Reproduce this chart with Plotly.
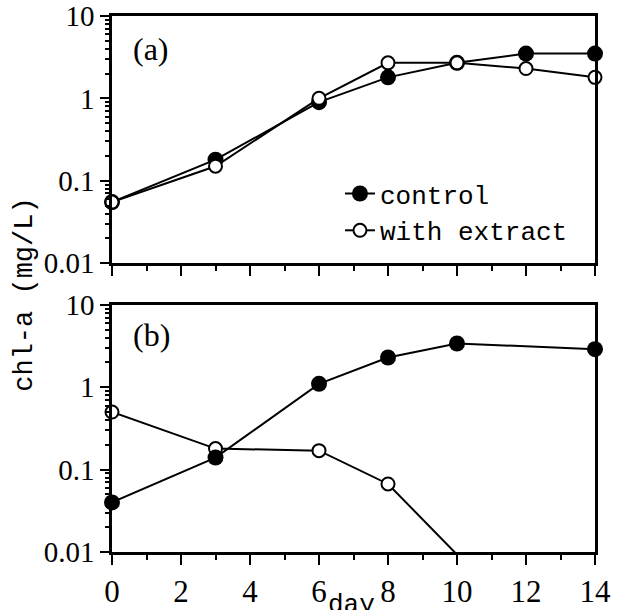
import plotly.graph_objects as go

# ---- data ----
days_a = [0, 3, 6, 8, 10, 12, 14]
control_a = [0.055, 0.18, 0.9, 1.8, 2.7, 3.5, 3.5]
extract_a = [0.055, 0.15, 1.0, 2.7, 2.7, 2.3, 1.8]

days_b_control = [0, 3, 6, 8, 10, 14]
control_b = [0.04, 0.14, 1.1, 2.3, 3.4, 2.9]
days_b_extract = [0, 3, 6, 8, 10]
extract_b = [0.5, 0.18, 0.17, 0.067, 0.0093]

y_tickvals = [0.01, 0.1, 1, 10]
y_ticktext = ["0.01", "0.1", "1", "10"]
x_tickvals = [0, 2, 4, 6, 8, 10, 12, 14]

SERIF = "Liberation Serif"
MONO = "Liberation Mono"
YMIN = 0.01

def sizes(vals, s):
    return [s if v >= YMIN else 0 for v in vals]

def filled(vals):
    return dict(symbol="circle", size=sizes(vals, 16), color="#000000", opacity=1,
                line=dict(color="#000000", width=0))

def hollow(vals):
    return dict(symbol="circle", size=sizes(vals, 13), color="#ffffff", opacity=1,
                line=dict(color="#000000", width=2))

line_style = dict(color="#000000", width=2)

fig = go.Figure()
fig.add_trace(go.Scatter(x=days_a, y=control_a, mode="lines+markers", name="control",
                         line=line_style, marker=filled(control_a), opacity=1,
                         cliponaxis=False, xaxis="x", yaxis="y"))
fig.add_trace(go.Scatter(x=days_a, y=extract_a, mode="lines+markers", name="with extract",
                         line=line_style, marker=hollow(extract_a), opacity=1,
                         cliponaxis=False, xaxis="x", yaxis="y"))
fig.add_trace(go.Scatter(x=days_b_extract, y=extract_b, mode="lines+markers", showlegend=False,
                         line=line_style, marker=hollow(extract_b), opacity=1,
                         cliponaxis=False, xaxis="x2", yaxis="y2"))
fig.add_trace(go.Scatter(x=days_b_control, y=control_b, mode="lines+markers", showlegend=False,
                         line=line_style, marker=filled(control_b), opacity=1,
                         cliponaxis=False, xaxis="x2", yaxis="y2"))

common_x = dict(range=[0, 14], showline=True, linecolor="black", linewidth=2.5, mirror=True,
                ticks="outside", ticklen=10, tickwidth=2, tickcolor="black",
                tickvals=x_tickvals, showgrid=False, zeroline=False, automargin=False,
                ticklabeloverflow="allow",
                minor=dict(ticks="outside", ticklen=5, tickwidth=2, tickcolor="black", dtick=1),
                tickfont=dict(family=SERIF, size=31, color="black"))
common_y = dict(type="log", range=[-2, 1], showline=True, linecolor="black", linewidth=2.5,
                mirror=True, ticks="outside", ticklen=9, tickwidth=2, tickcolor="black",
                tickvals=y_tickvals, ticktext=y_ticktext, showgrid=False, zeroline=False,
                automargin=False, ticklabeloverflow="allow",
                minor=dict(ticks="outside", ticklen=4, tickwidth=1.5, tickcolor="black",
                           dtick="D1", showgrid=False),
                tickfont=dict(family=SERIF, size=29, color="black"))

fig.update_layout(
    width=642, height=610,
    margin=dict(l=112, r=47, t=16, b=58),
    paper_bgcolor="white", plot_bgcolor="white",
    font=dict(family=SERIF, color="black"),
    xaxis=dict(common_x, domain=[0, 1], anchor="y", showticklabels=False),
    yaxis=dict(common_y, domain=[0.539, 1], anchor="x"),
    xaxis2=dict(common_x, domain=[0, 1], anchor="y2"),
    yaxis2=dict(common_y, domain=[0, 0.461], anchor="x2"),
    legend=dict(x=0.472, y=0.7125, xanchor="left", yanchor="top", bgcolor="rgba(0,0,0,0)",
                font=dict(family=MONO, size=26, color="black"), tracegroupgap=0),
    showlegend=True,
)

fig.add_annotation(text="(a)", xref="x domain", yref="y domain", x=0.039, y=0.866,
                   xanchor="left", yanchor="middle", showarrow=False,
                   font=dict(family=SERIF, size=32, color="black"))
fig.add_annotation(text="(b)", xref="x2 domain", yref="y2 domain", x=0.039, y=0.877,
                   xanchor="left", yanchor="middle", showarrow=False,
                   font=dict(family=SERIF, size=32, color="black"))
fig.add_annotation(text="chl-a (mg/L)", xref="paper", yref="paper", x=-0.18, y=0.48,
                   xanchor="center", yanchor="middle", textangle=-90, showarrow=False,
                   font=dict(family=MONO, size=27, color="black"))
fig.add_annotation(text="day", xref="paper", yref="paper", x=0.495, y=-0.067,
                   xanchor="center", yanchor="top", showarrow=False,
                   font=dict(family=MONO, size=26, color="black"))

fig.write_html("out.html", config={"displayModeBar": False},
               post_script="document.body.style.margin='0';document.body.style.overflow='hidden';")
